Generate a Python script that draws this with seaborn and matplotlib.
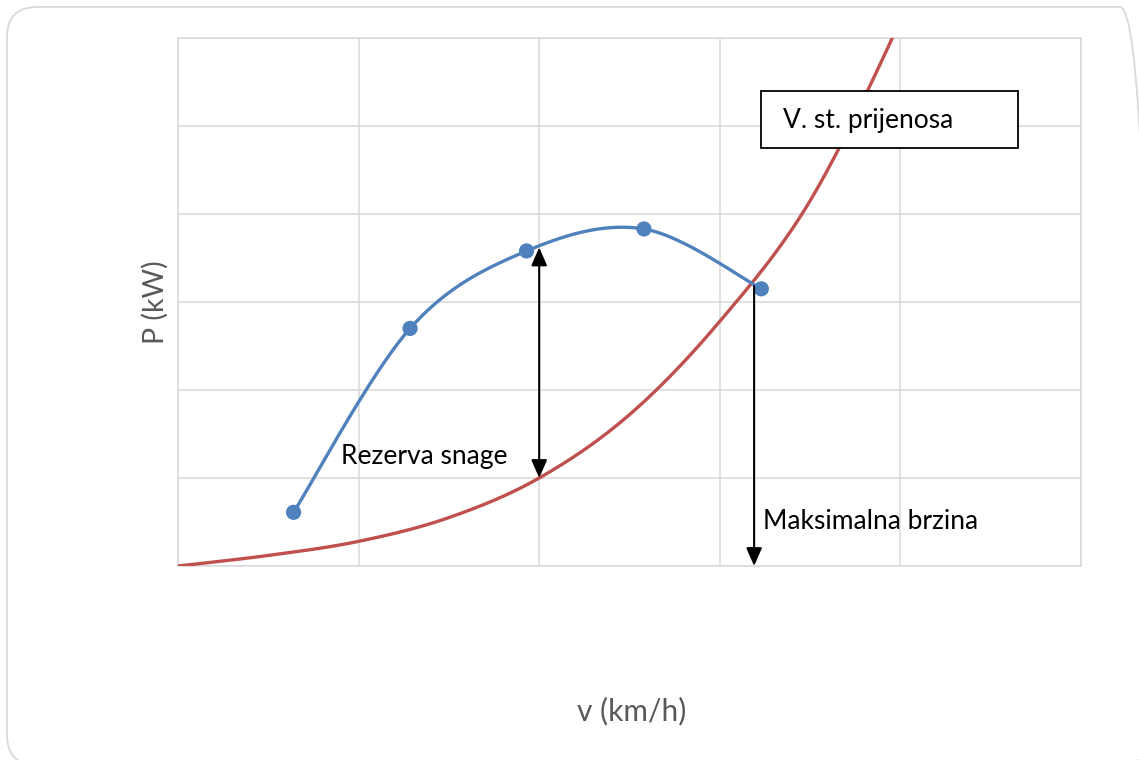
import numpy as np
import pandas as pd
import matplotlib
matplotlib.use("Agg")
import matplotlib.pyplot as plt
from matplotlib.patches import FancyBboxPatch, Rectangle
import seaborn as sns

# ---- data ----
engine_speed = [0.64, 1.285, 1.93, 2.58, 3.23]
engine_power = [0.61, 2.70, 3.58, 3.83, 3.15]

resist_speed = [0.0, 0.5, 1.0, 1.5, 2.0, 2.5, 3.0, 3.5, 4.0, 4.2]
resist_power = [0.0, 0.12, 0.28, 0.55, 1.0, 1.72, 2.78, 4.15, 6.2, 7.3]

reserve_arrow = (2.0, 3.62, 1.0)     # x, from, to
vmax_arrow = (3.19, 3.18, 0.0)

x_label = "v (km/h)"
y_label = "P (kW)"
gear_label = "V. st. prijenosa"
reserve_label = "Rezerva snage"
vmax_label = "Maksimalna brzina"


def excel_smooth(xs, ys, n=40):
    P = np.column_stack([xs, ys]).astype(float)
    Pe = np.vstack([P[0], P, P[-1]])
    out = []
    t = np.linspace(0, 1, n)[:, None]
    for i in range(1, len(Pe) - 2):
        p0, p1, p2, p3 = Pe[i - 1], Pe[i], Pe[i + 1], Pe[i + 2]
        b1 = p1 + (p2 - p0) / 6
        b2 = p2 - (p3 - p1) / 6
        seg = (1 - t) ** 3 * p1 + 3 * (1 - t) ** 2 * t * b1 + 3 * (1 - t) * t ** 2 * b2 + t ** 3 * p2
        out.append(seg if i == 1 else seg[1:])
    return np.vstack(out)


sns.set_theme(style="white")
plt.rcParams["font.family"] = ["Lato", "DejaVu Sans"]

W, H, DPI = 1139, 760, 100
fig = plt.figure(figsize=(W / DPI, H / DPI), dpi=DPI)
ax = fig.add_axes([178 / W, 1 - 566 / H, (1081 - 178) / W, (566 - 38) / H])

blue = "#4F81BD"
red = "#C0504D"
grid = "#D9D9D9"

eng = excel_smooth(engine_speed, engine_power)
res = excel_smooth(resist_speed, resist_power)
df_eng = pd.DataFrame({"v": eng[:, 0], "P": eng[:, 1]})
df_res = pd.DataFrame({"v": res[:, 0], "P": res[:, 1]})
df_pts = pd.DataFrame({"v": engine_speed, "P": engine_power})

sns.lineplot(data=df_res, x="v", y="P", sort=False, estimator=None, color=red, lw=2.4, ax=ax, zorder=3)
sns.lineplot(data=df_eng, x="v", y="P", sort=False, estimator=None, color=blue, lw=2.4, ax=ax, zorder=3)
sns.scatterplot(data=df_pts, x="v", y="P", color=blue, s=120, edgecolor="none", ax=ax, zorder=4)

ax.set_xlim(0, 5)
ax.set_ylim(0, 6)
ax.set_xticks(range(6))
ax.set_yticks(range(7))
ax.tick_params(length=0, labelbottom=False, labelleft=False)
ax.set_xlabel("")
ax.set_ylabel("")
ax.grid(True, color=grid, lw=1.1)
for s in ax.spines.values():
    s.set_color(grid)
    s.set_linewidth(1.1)

arrow_kw = dict(lw=1.5, color="black", shrinkA=0, shrinkB=0, mutation_scale=20)
ax.annotate("", xy=(reserve_arrow[0], reserve_arrow[2]), xytext=(reserve_arrow[0], reserve_arrow[1]),
            arrowprops=dict(arrowstyle="<|-|>,head_length=0.55,head_width=0.24", **arrow_kw), zorder=5)
ax.annotate("", xy=(vmax_arrow[0], vmax_arrow[2]), xytext=(vmax_arrow[0], vmax_arrow[1]),
            arrowprops=dict(arrowstyle="-|>,head_length=0.55,head_width=0.24", **arrow_kw),
            zorder=5, annotation_clip=False)

ax.text(0.903, 1.24, reserve_label, fontsize=19, va="center", ha="left", color="black", zorder=6)
ax.text(3.24, 0.51, vmax_label, fontsize=19, va="center", ha="left", color="black", zorder=6)
ax.add_patch(Rectangle((3.228, 4.75), 1.423, 0.65, facecolor="white", edgecolor="black", lw=1.3, zorder=7))
ax.text(3.35, 5.06, gear_label, fontsize=19, va="center", ha="left", color="black", zorder=8)

fig.text(632 / W, 1 - 711 / H, x_label, fontsize=21.5, color="#595959", ha="center", va="center")
fig.text(155 / W, 1 - 302 / H, y_label, fontsize=20.5, color="#595959", ha="center", va="center", rotation=90)

border = FancyBboxPatch((7, H - 765), 1150 - 7, 765 - 7, boxstyle="round,pad=0,rounding_size=30",
                        transform=None, facecolor="none", edgecolor=grid, lw=1.3)
fig.patches.append(border)

fig.savefig("out.png", dpi=DPI)
